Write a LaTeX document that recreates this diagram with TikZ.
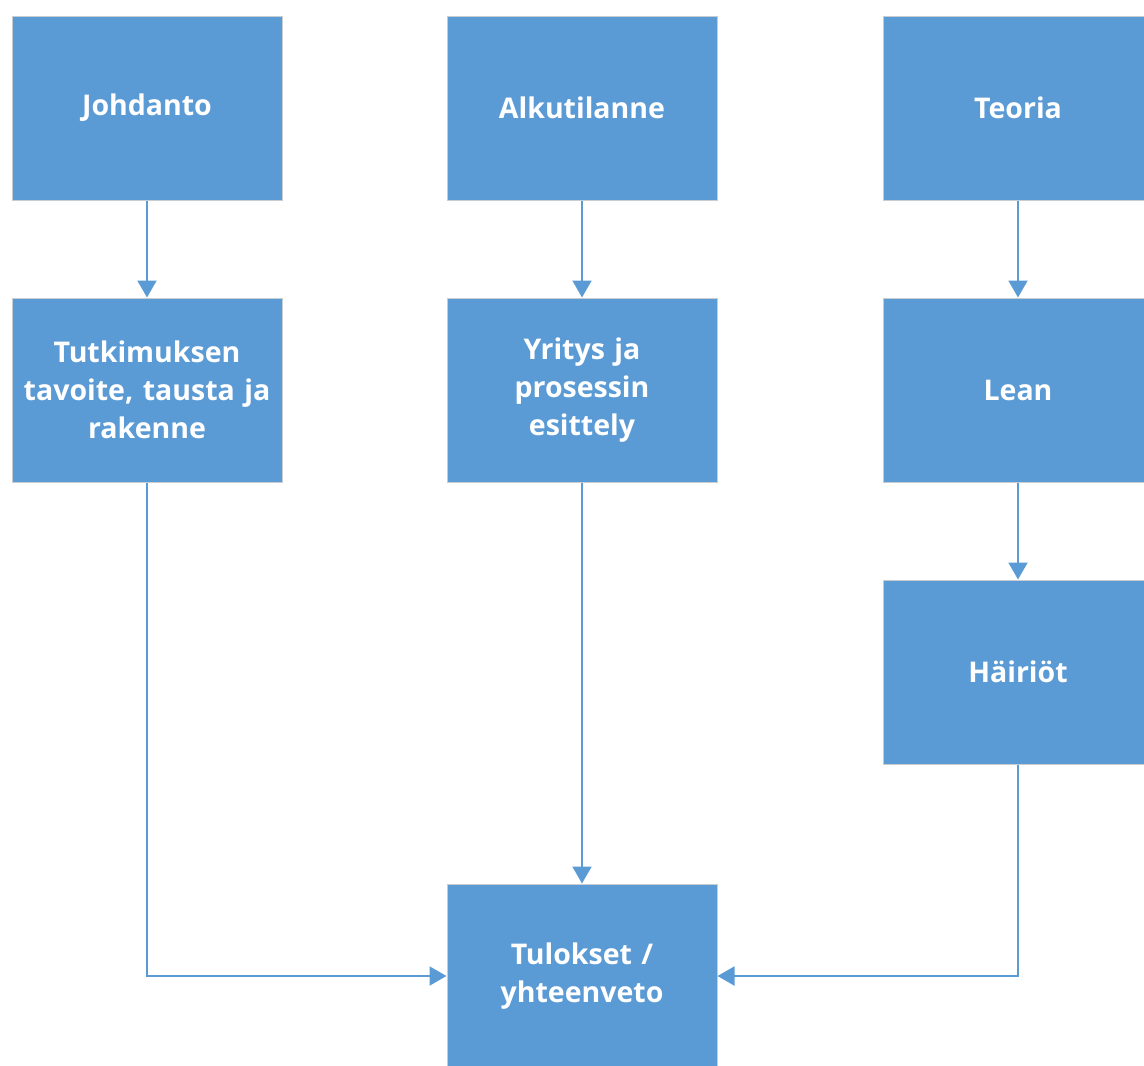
\documentclass[tikz,border=0pt]{standalone}
\usepackage{fontspec}
\setmainfont{Open Sans}
\usetikzlibrary{arrows.meta}
\definecolor{boxblue}{HTML}{5B9BD5}
\definecolor{boxedge}{HTML}{C8CDD2}
\begin{document}
\begin{tikzpicture}[x=1pt,y=-1pt,
  blk/.style={draw=boxedge, line width=1pt, fill=boxblue, minimum width=270pt, minimum height=184pt,
    text=white, font=\fontsize{28.5}{38}\selectfont\bfseries, align=center, inner sep=0pt, text width=264pt},
  conn/.style={draw=boxblue, line width=2pt, -{Triangle[width=19pt,length=17pt]}}]
\useasboundingbox (0,0) rectangle (1144,1066);
\clip (0,0) rectangle (1144,1066);
\fill[white] (0,0) rectangle (1144,1066);
\node[blk] (joh) at (147,108) {Johdanto};
\node[blk] (alk) at (582,108) {Alkutilanne};
\node[blk] (teo) at (1018,108) {Teoria};
\node[blk] (tut) at (147,390) {Tutkimuksen\\tavoite, tausta ja\\rakenne};
\node[blk] (yri) at (582,390) {Yritys ja\\prosessin\\esittely};
\node[blk] (lea) at (1018,390) {Lean};
\node[blk] (hai) at (1018,672) {Häiriöt};
\node[blk] (tul) at (582,976) {Tulokset /\\yhteenveto};
\draw[conn] (joh.south) -- (tut.north);
\draw[conn] (alk.south) -- (yri.north);
\draw[conn] (teo.south) -- (lea.north);
\draw[conn] (lea.south) -- (hai.north);
\draw[conn] (yri.south) -- (tul.north);
\draw[conn] (tut.south) |- (tul.west);
\draw[conn] (hai.south) |- (tul.east);
\end{tikzpicture}
\end{document}
